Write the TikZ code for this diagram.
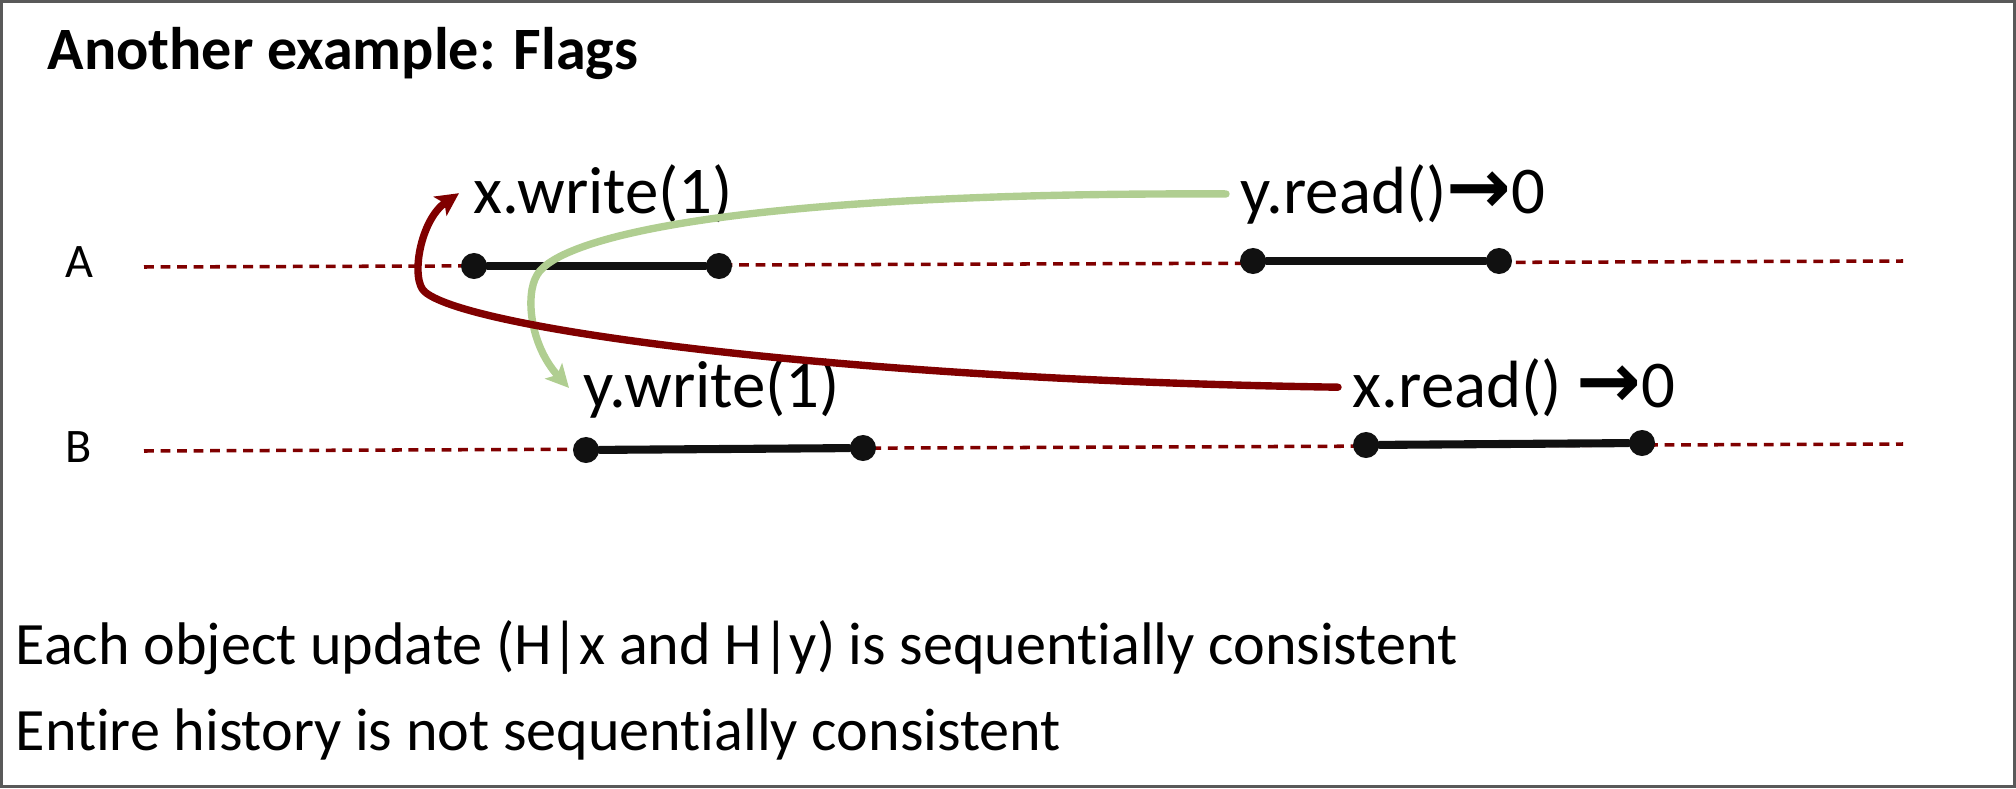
\documentclass[tikz,border=0pt]{standalone}
\usepackage{fontspec}
\setmainfont{Carlito}[Ligatures=NoCommon]
\newfontfamily\arrowfont{DejaVu Sans}
\usetikzlibrary{arrows.meta}
\definecolor{flagred}{RGB}{128,0,0}
\definecolor{flaggreen}{RGB}{176,206,145}
\definecolor{opblack}{RGB}{17,17,17}
\definecolor{framegray}{RGB}{89,89,89}
\newcommand{\ret}{{\arrowfont\bfseries\fontsize{22}{23}\selectfont →}}

\begin{document}
\begin{tikzpicture}[
                x = 0.01cm, y = -0.01cm, % one unit per pixel
                > = {Stealth[length=6.5pt, width=6.5pt, inset=1.5pt]}, % arrow head style
                line cap = round,
                ]
                \tikzstyle{opdot}=[
                    circle,
                    fill = opblack,
                    inner sep = 0pt,
                    minimum size = 0.26cm,
                ]
                \tikzstyle{op}=[draw = opblack, line width = 2.3pt]
                \tikzstyle{timeline}=[draw = flagred, line width = 1pt, line cap = butt, dash pattern = on 2.8pt off 1.9pt]
                \tikzstyle{call}=[anchor = base west, inner sep = 4pt, font = \fontsize{19}{23}\selectfont]
                \tikzstyle{proc}=[anchor = base, inner sep = 0pt, font = \fontsize{13.7}{16}\selectfont]
                \tikzstyle{note}=[anchor = base west, inner sep = 0pt, font = \fontsize{17.1}{20}\selectfont]
                \tikzstyle{flow}=[->, line width = 2.1pt]

                \useasboundingbox (0,0) rectangle (2016,788);
                \draw[framegray, line width = 0.9pt] (1.5,1.5) rectangle (2014.5,786.5);

                \node[note] (title) at (47,70) {\bfseries Another example: Flags};

                % processes
                \node[proc] (pa) at (79,277) {A};
                \node[proc] (pb) at (79,462) {B};
                \coordinate (as) at (144,267);
                \coordinate (ae) at (1903,261);
                \coordinate (bs) at (144,451);
                \coordinate (be) at (1903,444);
                \draw[timeline] (as) -- (ae);
                \draw[timeline] (bs) -- (be);

                % operations
                \node[opdot] (a1) at (474,266) {};
                \node[opdot] (a2) at (719,266) {};
                \node[opdot] (a3) at (1253,261) {};
                \node[opdot] (a4) at (1499,261) {};
                \node[opdot] (b1) at (586,450) {};
                \node[opdot] (b2) at (863,448) {};
                \node[opdot] (b3) at (1366,445) {};
                \node[opdot] (b4) at (1642,443) {};
                \draw[op] (a1) -- (a2);
                \draw[op] (a3) -- (a4);
                \draw[op] (b1) -- (b2);
                \draw[op] (b3) -- (b4);

                \node[call] (xw) at (459,213) {x.write(1)};
                \node[call] (yr) at (1226,213) {y.read()\ret0};
                \node[call] (yw) at (569,407) {y.write(1)};
                \node[call] (xr) at (1338,407) {x.read() \ret0};

                % orderings
                \draw[flow, flaggreen] (yr.west)
                .. controls (750,192) and (560,235) .. (537,275)
                .. controls (525,295) and (530,345) .. (yw.west);
                \draw[flow, flagred] (xr.west)
                .. controls (850,380) and (470,330) .. (425,292)
                .. controls (410,280) and (420,220) .. (xw.west);

                \node[note] (l1) at (15,664) {Each object update (H|x and H|y) is sequentially consistent};
                \node[note] (l2) at (15,750) {Entire history is not sequentially consistent};
            \end{tikzpicture}
\end{document}
